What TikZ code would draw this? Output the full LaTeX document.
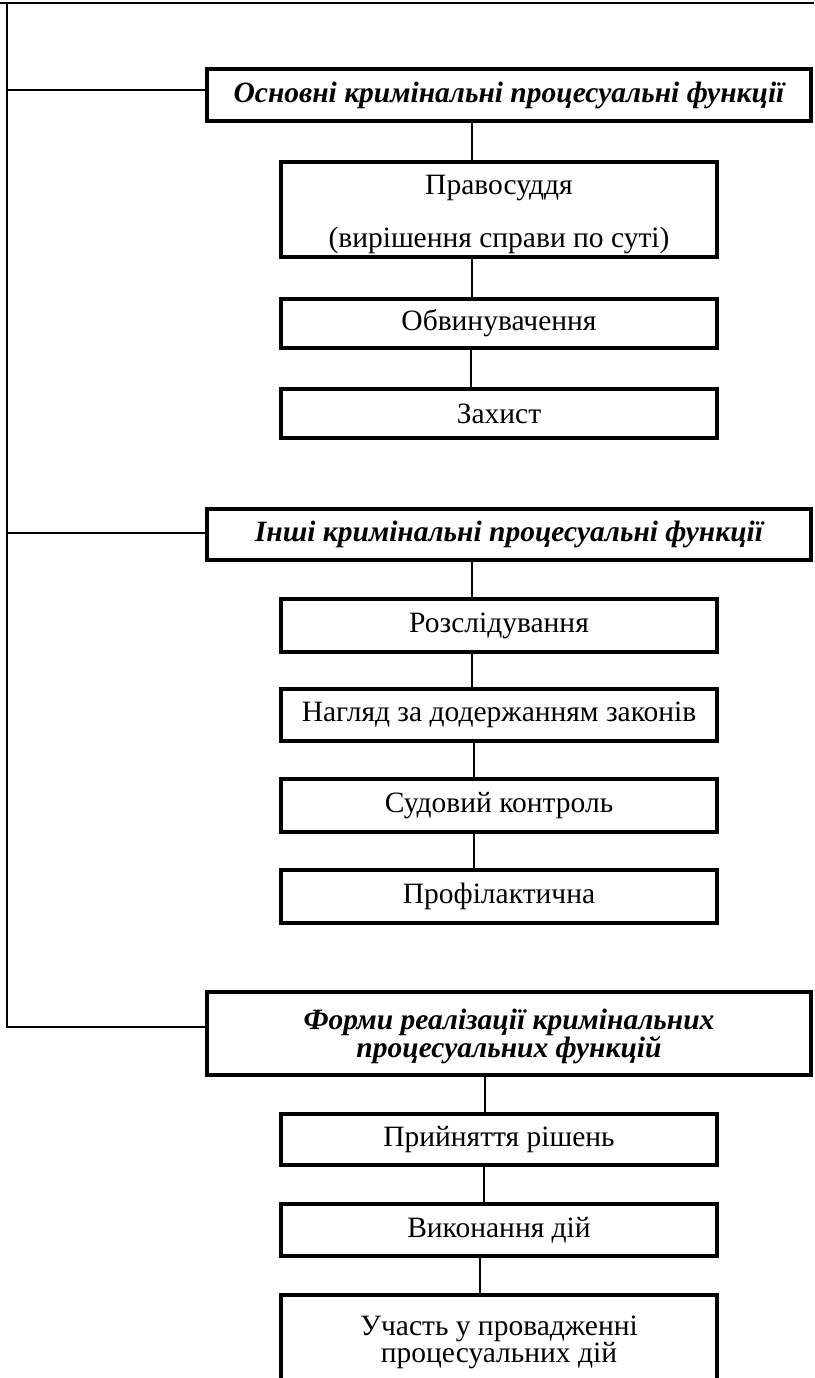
\documentclass[tikz,border=0pt]{standalone}
\usepackage{fontspec}
\setmainfont{Liberation Serif}
\begin{document}
\begin{tikzpicture}[x=1pt,y=-1pt,
  mainbox/.style={draw, line width=4pt, minimum width=604pt, inner sep=0pt,
    font=\fontsize{29.5}{28}\selectfont\bfseries\itshape, align=center},
  subbox/.style={draw, line width=4pt, minimum width=436pt, inner sep=0pt,
    font=\fontsize{29.5}{26}\selectfont, align=center},
  conn/.style={line width=1.4pt},
  frame/.style={line width=2.5pt}]
\useasboundingbox (0,0) rectangle (814,1378);
% frame remnants
\coordinate (tl) at (0,3);
\coordinate (tr) at (814,3);
\draw[frame] (tl) -- (tr);
% boxes
\node[mainbox, minimum height=52pt] (b1) at (509,95) {Основні кримінальні процесуальні функції};
\node[subbox, minimum height=95pt] (b2) at (499,209.5) {\rule{0pt}{30pt}Правосуддя\\[25pt](вирішення справи по суті)};
\node[subbox, minimum height=49pt] (b3) at (499,323.5) {Обвинувачення};
\node[subbox, minimum height=49pt] (b4) at (499,413.5) {Захист};
\node[mainbox, minimum height=51pt] (b5) at (509,534.5) {Інші кримінальні процесуальні функції};
\node[subbox, minimum height=53pt] (b6) at (499,625.5) {Розслідування};
\node[subbox, minimum height=52pt] (b7) at (499,715) {Нагляд за додержанням законів};
\node[subbox, minimum height=53pt] (b8) at (499,805.5) {Судовий контроль};
\node[subbox, minimum height=53pt] (b9) at (499,896.5) {Профілактична};
\node[mainbox, minimum height=83pt] (b10) at (509,1033.5) {\rule{0pt}{26pt}Форми реалізації кримінальних\\процесуальних функцій};
\node[subbox, minimum height=51pt] (b11) at (499,1139.5) {Прийняття рішень};
\node[subbox, minimum height=52pt] (b12) at (499,1230) {Виконання дій};
\node[subbox, minimum height=86pt] (b13) at (499,1338) {\rule{0pt}{28pt}Участь у провадженні\\процесуальних дій};
% left spine
\coordinate (top) at (7,3);
\coordinate (h1) at (7,90);
\coordinate (h2) at (7,533);
\coordinate (corner) at (7,1027);
\draw[conn] (top) -- (corner) -- (corner -| b10.west);
\draw[conn] (h1) -- (h1 -| b1.west);
\draw[conn] (h2) -- (h2 -| b5.west);
% vertical connectors
\coordinate (v1) at (472,0);
\coordinate (v2) at (472,0);
\coordinate (v3) at (471,0);
\coordinate (v4) at (472,0);
\coordinate (v5) at (472,0);
\coordinate (v6) at (474,0);
\coordinate (v7) at (474,0);
\coordinate (v8) at (485,0);
\coordinate (v9) at (484,0);
\coordinate (v10) at (480,0);
\draw[conn] (b1.south -| v1) -- (b2.north -| v1);
\draw[conn] (b2.south -| v2) -- (b3.north -| v2);
\draw[conn] (b3.south -| v3) -- (b4.north -| v3);
\draw[conn] (b5.south -| v4) -- (b6.north -| v4);
\draw[conn] (b6.south -| v5) -- (b7.north -| v5);
\draw[conn] (b7.south -| v6) -- (b8.north -| v6);
\draw[conn] (b8.south -| v7) -- (b9.north -| v7);
\draw[conn] (b10.south -| v8) -- (b11.north -| v8);
\draw[conn] (b11.south -| v9) -- (b12.north -| v9);
\draw[conn] (b12.south -| v10) -- (b13.north -| v10);
\end{tikzpicture}
\end{document}
